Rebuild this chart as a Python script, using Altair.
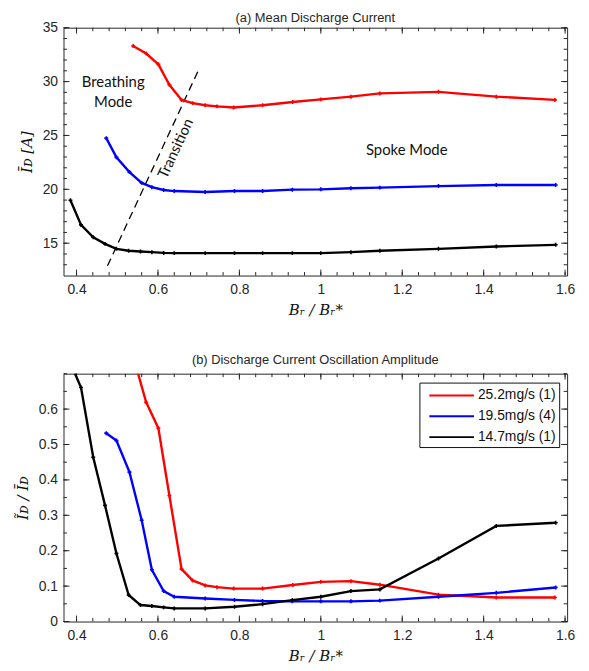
import altair as alt
import pandas as pd

# ---------------- data ----------------
series_names = ["25.2mg/s (1)", "19.5mg/s (4)", "14.7mg/s (1)"]
series_colors = ["#ff0000", "#0000ff", "#000000"]

x_red = [0.539, 0.571, 0.601, 0.628, 0.658, 0.685, 0.716, 0.745, 0.786,
         0.857, 0.931, 1.0, 1.074, 1.145, 1.289, 1.431, 1.575]
red_mean = [33.3, 32.6, 31.6, 29.7, 28.3, 28.0, 27.8, 27.7, 27.6,
            27.8, 28.1, 28.35, 28.6, 28.9, 29.05, 28.6, 28.3]
red_amp = [0.75, 0.619, 0.546, 0.356, 0.148, 0.116, 0.102, 0.097, 0.093,
           0.093, 0.103, 0.112, 0.114, 0.104, 0.076, 0.068, 0.068]

x_blue = [0.473, 0.498, 0.530, 0.560, 0.585, 0.614, 0.640, 0.716, 0.788,
          0.857, 0.930, 1.0, 1.074, 1.145, 1.289, 1.431, 1.577]
blue_mean = [24.75, 22.97, 21.6, 20.6, 20.2, 19.94, 19.84, 19.75, 19.84,
             19.84, 19.97, 20.0, 20.1, 20.16, 20.3, 20.4, 20.4]
blue_amp = [0.532, 0.511, 0.422, 0.286, 0.146, 0.086, 0.070, 0.065, 0.061,
            0.058, 0.057, 0.057, 0.057, 0.059, 0.070, 0.081, 0.096]

x_black = [0.385, 0.411, 0.441, 0.470, 0.498, 0.528, 0.557, 0.585, 0.614, 0.640,
           0.716, 0.788, 0.857, 0.930, 1.0, 1.074, 1.145, 1.289, 1.431, 1.577]
black_mean = [18.99, 16.7, 15.55, 14.94, 14.48, 14.3, 14.23, 14.17, 14.1, 14.08,
              14.08, 14.08, 14.08, 14.08, 14.08, 14.17, 14.3, 14.48, 14.7, 14.85]
black_amp = [0.73, 0.661, 0.464, 0.328, 0.192, 0.075, 0.0465, 0.0437, 0.040, 0.037,
             0.037, 0.0417, 0.049, 0.0606, 0.070, 0.086, 0.0907, 0.178, 0.270, 0.279]

# transition line and annotations (panel a)
trans_x = [0.476, 0.700]
trans_y = [12.9, 31.1]
note_text = ["Breathing", "Mode", "Spoke Mode"]
note_x = [0.49, 0.49, 1.211]
note_y = [30.0, 28.1, 23.65]
trans_label = ["Transition"]
trans_label_x = [0.643]
trans_label_y = [23.8]

# axes
x_domain = [0.368, 1.605]
x_labels = [0.4, 0.6, 0.8, 1.0, 1.2, 1.4, 1.6]
x_minor = [round(0.4 + 0.04 * i, 2) for i in range(31)]
top_domain = [12, 35]
top_labels = [15, 20, 25, 30, 35]
top_minor = list(range(13, 36))
bot_domain = [0, 0.7]
bot_labels = [0, 0.1, 0.2, 0.3, 0.4, 0.5, 0.6]
bot_minor = [round(0.05 * i, 2) for i in range(15)]

# ---------------- build ----------------
W, H = 508, 250
AX = "#262626"


def series_frame(vals_by_series):
    rows = []
    for name, xs, ys in vals_by_series:
        for i, (a, b) in enumerate(zip(xs, ys)):
            rows.append({"x": a, "y": b, "series": name, "i": i})
    return pd.DataFrame(rows)


top_df = series_frame([(series_names[0], x_red, red_mean),
                       (series_names[1], x_blue, blue_mean),
                       (series_names[2], x_black, black_mean)])
bot_df = series_frame([(series_names[0], x_red, red_amp),
                       (series_names[1], x_blue, blue_amp),
                       (series_names[2], x_black, black_amp)])

xtitle = "Bᵣ / Bᵣ*"


def x_enc():
    return alt.X("x:Q",
                 scale=alt.Scale(domain=x_domain, nice=False, zero=False),
                 axis=alt.Axis(values=x_labels, format="~g", ticks=False, domain=False,
                               grid=False, title=xtitle, labelPadding=7, titlePadding=6,
                               titleFont="DejaVu Serif", titleFontStyle="italic",
                               titleFontSize=15, titleFontWeight="normal"))


def y_enc(domain, labels, title):
    return alt.Y("y:Q",
                 scale=alt.Scale(domain=domain, nice=False, zero=False),
                 axis=alt.Axis(values=labels, format="~g", ticks=False, domain=False,
                               grid=False, title=title, labelPadding=6, titlePadding=8,
                               titleFont="DejaVu Serif", titleFontStyle="italic",
                               titleFontSize=15, titleFontWeight="normal"))


def tick_layers(ydomain, ylabels, yminor, ytitle):
    xe = x_enc()
    ye = y_enc(ydomain, ylabels, ytitle)
    xmaj = pd.DataFrame({"x": x_labels})
    xmin = pd.DataFrame({"x": x_minor})
    ymaj = pd.DataFrame({"y": ylabels})
    ymin = pd.DataFrame({"y": yminor})
    layers = []
    for df, ln in ((xmaj, 6), (xmin, 3.5)):
        layers.append(alt.Chart(df).mark_rule(color=AX, strokeWidth=1).encode(
            x=xe, y=alt.value(H), y2=alt.value(H - ln)))
        layers.append(alt.Chart(df).mark_rule(color=AX, strokeWidth=1).encode(
            x=xe, y=alt.value(0), y2=alt.value(ln)))
    for df, ln in ((ymaj, 6), (ymin, 3.5)):
        layers.append(alt.Chart(df).mark_rule(color=AX, strokeWidth=1).encode(
            y=ye, x=alt.value(0), x2=alt.value(ln)))
        layers.append(alt.Chart(df).mark_rule(color=AX, strokeWidth=1).encode(
            y=ye, x=alt.value(W), x2=alt.value(W - ln)))
    return layers


color_top = alt.Color("series:N",
                      scale=alt.Scale(domain=series_names, range=series_colors),
                      legend=None)
color_bot = alt.Color("series:N",
                      scale=alt.Scale(domain=series_names, range=series_colors),
                      legend=alt.Legend(title=None, orient="none", legendX=359, legendY=9,
                                        symbolType="M-2.5,0L2.5,0", symbolSize=324,
                                        symbolStrokeWidth=2, symbolOffset=19.5,
                                        labelFont="Liberation Sans",
                                        labelFontSize=14, labelColor="#111",
                                        labelExpr="datum.label + '\u00a0\u00a0\u00a0\u00a0\u00a0'",
                                        strokeColor="#111", fillColor="white",
                                        padding=3, rowPadding=4, labelOffset=16.5))

pt = alt.OverlayMarkDef(shape="cross", size=16, filled=True, clip=True)

top_title = "Īᴅ [A]"
bot_title = "Ĩᴅ / Īᴅ"

top_lines = alt.Chart(top_df).mark_line(strokeWidth=2.4, clip=True, point=pt).encode(
    x=x_enc(), y=y_enc(top_domain, top_labels, top_title), color=color_top, order="i:Q")

trans_df = pd.DataFrame({"x": trans_x, "y": trans_y})
trans_line = alt.Chart(trans_df).mark_line(color="black", strokeWidth=1.3,
                                           strokeDash=[8, 5]).encode(
    x=x_enc(), y=y_enc(top_domain, top_labels, top_title))

notes_df = pd.DataFrame({"x": note_x, "y": note_y, "t": note_text})
notes = alt.Chart(notes_df).mark_text(font="Lato", fontSize=15, color="#111",
                                      align="center", baseline="middle").encode(
    x=x_enc(), y=y_enc(top_domain, top_labels, top_title), text="t:N")

tl_df = pd.DataFrame({"x": trans_label_x, "y": trans_label_y, "t": trans_label})
tlabel = alt.Chart(tl_df).mark_text(font="Lato", fontSize=15, color="#111", angle=295,
                                    align="center", baseline="middle").encode(
    x=x_enc(), y=y_enc(top_domain, top_labels, top_title), text="t:N")

top = alt.layer(*tick_layers(top_domain, top_labels, top_minor, top_title),
                trans_line, top_lines, notes, tlabel).properties(
    width=W, height=H,
    title=alt.TitleParams("(a) Mean Discharge Current", frame="group", offset=-4))

bot_lines = alt.Chart(bot_df).mark_line(strokeWidth=2.4, clip=True, point=pt).encode(
    x=x_enc(), y=y_enc(bot_domain, bot_labels, bot_title), color=color_bot, order="i:Q")

bottom = alt.layer(*tick_layers(bot_domain, bot_labels, bot_minor, bot_title),
                   bot_lines).properties(
    width=W, height=H,
    title=alt.TitleParams("(b) Discharge Current Oscillation Amplitude",
                          frame="group", offset=6))

chart = alt.vconcat(top, bottom, spacing=36).resolve_scale(
    color="independent"
).properties(
    padding={"left": 7, "top": 0, "right": 5, "bottom": 0}
).configure_view(
    stroke=AX, strokeWidth=1
).configure_axis(
    labelFont="Liberation Sans", labelFontSize=14, labelColor=AX, titleColor="#111"
).configure_title(
    font="Liberation Sans", fontSize=13, fontWeight="normal", color=AX,
    anchor="middle"
)

chart.save("out.html", embed_options={"renderer": "svg", "actions": False})
